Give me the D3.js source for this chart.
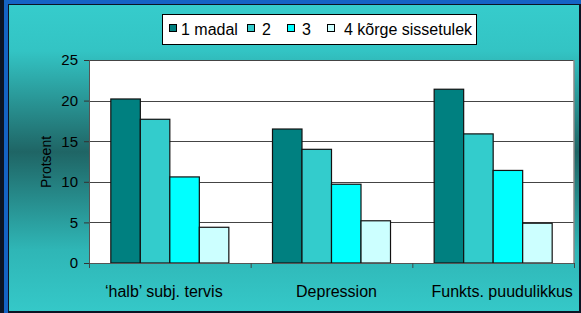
<!DOCTYPE html>
<html>
<head>
<meta charset="utf-8">
<script src="https://cdn.jsdelivr.net/npm/d3@7"></script>
<style>
  body { margin: 0; background: #fff; }
  svg text { font-family: "Liberation Sans", Arial, sans-serif; fill: #000; }
</style>
</head>
<body>
<svg id="chart" width="581" height="313"></svg>
<script>
var categories = ["\u2018halb\u2019 subj. tervis", "Depression", "Funkts. puudulikkus"];
var seriesNames = ["1 madal", "2", "3", "4 k\u00f5rge sissetulek"];
var seriesColors = ["#008080", "#33cccc", "#00ffff", "#ccffff"];
var madal = [20.2, 16.5, 21.4];
var teine = [17.7, 14.0, 15.9];
var kolmas = [10.6, 9.7, 11.4];
var korge = [4.4, 5.2, 4.9];
var yTicks = [0, 5, 10, 15, 20, 25];

var series = [madal, teine, kolmas, korge];

var svg = d3.select("#chart");
var W = 581, H = 313;
var margin = {top: 60, left: 89, right: 7, bottom: 50};
var width = W - margin.left - margin.right;
var height = H - margin.top - margin.bottom;

// background + frame
var defs = svg.append("defs");
var grad = defs.append("linearGradient").attr("id", "bg")
    .attr("x1", 0).attr("y1", 0).attr("x2", 0).attr("y2", 1);
grad.append("stop").attr("offset", "0%").attr("stop-color", "#36cccc");
grad.append("stop").attr("offset", "15%").attr("stop-color", "#33c4c4");
grad.append("stop").attr("offset", "48%").attr("stop-color", "#1f6565");
grad.append("stop").attr("offset", "80%").attr("stop-color", "#2fb6b6");
grad.append("stop").attr("offset", "100%").attr("stop-color", "#35c8c8");

svg.append("rect").attr("width", W).attr("height", H).attr("fill", "#0b1424");
svg.append("rect").attr("x", 4).attr("y", 0).attr("width", W - 4).attr("height", 4).attr("fill", "#1563c4");
svg.append("rect").attr("x", 4).attr("y", 0).attr("width", 4).attr("height", H).attr("fill", "#1563c4");
svg.append("rect").attr("x", 9).attr("y", 5).attr("width", 570).attr("height", 306).attr("fill", "url(#bg)");

var g = svg.append("g").attr("transform", "translate(" + margin.left + "," + margin.top + ")");

var x0 = d3.scaleBand().domain(categories).range([0, width]).paddingInner(0.27).paddingOuter(0.135);
var x1 = d3.scaleBand().domain(d3.range(seriesNames.length)).range([0, x0.bandwidth()]);
var y = d3.scaleLinear().domain([0, 25]).range([height, 0]);

g.append("rect").attr("width", width).attr("height", height).attr("fill", "#fff");

// gridlines
g.append("g")
    .call(d3.axisLeft(y).tickValues(yTicks.slice(1)).tickSize(-width).tickFormat(""))
    .call(function (s) { s.select(".domain").remove(); })
    .selectAll("line").attr("stroke", "#444").attr("shape-rendering", "crispEdges");

// right border
g.append("line").attr("x1", width).attr("x2", width).attr("y1", 0).attr("y2", height)
    .attr("stroke", "#888").attr("stroke-width", 1.5);

// bars
var groups = g.selectAll(".grp").data(categories).enter().append("g")
    .attr("transform", function (d) { return "translate(" + x0(d) + ",0)"; });

groups.selectAll("rect")
    .data(function (d, i) { return series.map(function (s, k) { return {k: k, v: s[i]}; }); })
    .enter().append("rect")
    .attr("x", function (d) { return x1(d.k); })
    .attr("width", x1.bandwidth())
    .attr("y", function (d) { return y(d.v); })
    .attr("height", function (d) { return height - y(d.v); })
    .attr("fill", function (d) { return seriesColors[d.k]; })
    .attr("stroke", "#111").attr("stroke-width", 1.2);

// y axis
var yAxis = g.append("g")
    .call(d3.axisLeft(y).tickValues(yTicks).tickSize(5).tickPadding(6));
yAxis.select(".domain").attr("stroke", "#555");
yAxis.selectAll("line").attr("stroke", "#333");
yAxis.selectAll("text").style("font-size", "15px");

// x axis
var xb = d3.scaleLinear().domain([0, categories.length]).range([0, width]);
var xAxis = g.append("g").attr("transform", "translate(0," + height + ")")
    .call(d3.axisBottom(xb).tickValues(d3.range(categories.length + 1)).tickSize(5).tickFormat(""));
xAxis.select(".domain").attr("stroke", "#555");
xAxis.selectAll("line").attr("stroke", "#444");

var labelShift = [-6, 5, 9];
g.selectAll(".xlab").data(categories).enter().append("text")
    .attr("x", function (d, i) { return x0(d) + x0.bandwidth() / 2 + labelShift[i]; })
    .attr("y", height + 34)
    .attr("text-anchor", "middle")
    .style("font-size", "16px")
    .text(function (d) { return d; });

// y title
svg.append("text")
    .attr("transform", "translate(51,162) rotate(-90)")
    .attr("text-anchor", "middle")
    .style("font-size", "14px")
    .text("Protsent");

// legend
var lg = svg.append("g");
lg.append("rect").attr("x", 162.5).attr("y", 14.5).attr("width", 314).attr("height", 30)
    .attr("fill", "#fff").attr("stroke", "#000");
var legX = [169, 247, 287, 327];
var txtX = [181, 262, 302, 344];
seriesNames.forEach(function (n, i) {
    lg.append("rect").attr("x", legX[i] + 0.5).attr("y", 24.5).attr("width", 7).attr("height", 7)
        .attr("fill", seriesColors[i]).attr("stroke", "#000");
    lg.append("text").attr("x", txtX[i]).attr("y", 35).style("font-size", "16px").text(n);
});
</script>
</body>
</html>
